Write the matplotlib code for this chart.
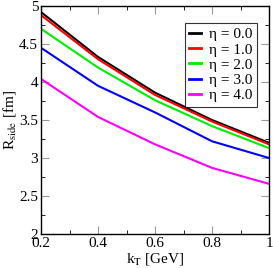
import numpy as np
import matplotlib.pyplot as plt
from matplotlib.ticker import MultipleLocator

plt.rcParams['font.family'] = ['Liberation Serif', 'DejaVu Serif']
plt.rcParams['mathtext.fontset'] = 'stix'

# datos
kt = [0.2, 0.4, 0.6, 0.8, 1.0]
r_eta0 = [4.92, 4.33, 3.86, 3.50, 3.20]
r_eta1 = [4.88, 4.30, 3.83, 3.48, 3.18]
r_eta2 = [4.70, 4.19, 3.76, 3.42, 3.13]
r_eta3 = [4.45, 3.95, 3.60, 3.22, 3.00]
r_eta4 = [4.04, 3.54, 3.18, 2.87, 2.66]

series = [r_eta0, r_eta1, r_eta2, r_eta3, r_eta4]
labels = ['η = 0.0', 'η = 1.0', 'η = 2.0', 'η = 3.0', 'η = 4.0']
colors = ['black', 'red', '#00ee00', 'blue', 'magenta']

fig = plt.figure(figsize=(2.73, 2.68), dpi=100)
ax = fig.add_axes([41/273, 1 - 234/268, 228/273, 228/268])

for r, lab, c in zip(series, labels, colors):
    ax.plot(kt, r, color=c, lw=1.5, label=lab)

ax.set_xlim(0.2, 1.0)
ax.set_ylim(2, 5)
ax.xaxis.set_minor_locator(MultipleLocator(0.1))
ax.yaxis.set_minor_locator(MultipleLocator(0.25))
ax.set_xticks([0.2, 0.4, 0.6, 0.8, 1.0], ['0.2', '0.4', '0.6', '0.8', '1'])
ax.set_yticks([2, 2.5, 3, 3.5, 4, 4.5, 5], ['2', '2.5', '3', '3.5', '4', '4.5', '5'])
ax.tick_params(which='both', direction='in', top=True, right=True, labelsize=11, pad=2)
ax.tick_params(which='major', length=6, color='#999999')
ax.tick_params(which='minor', length=3)
for s in ax.spines.values():
    s.set_linewidth(1.0)

ax.set_xlabel(r'k$_\mathrm{T}$ [GeV]', fontsize=11, labelpad=1)
ax.set_ylabel(r'R$_\mathrm{side}$ [fm]', fontsize=11, labelpad=1)

leg = ax.legend(loc='upper right', fontsize=11, frameon=True, fancybox=False,
                edgecolor='black', handlelength=0.8, handletextpad=0.5,
                labelspacing=0.1, borderpad=0.3, borderaxespad=0,
                bbox_to_anchor=(0.947, 0.925))
leg.get_frame().set_linewidth(0.8)
for h in leg.legend_handles:
    h.set_linewidth(2)

fig.savefig('out.png', dpi=100)
